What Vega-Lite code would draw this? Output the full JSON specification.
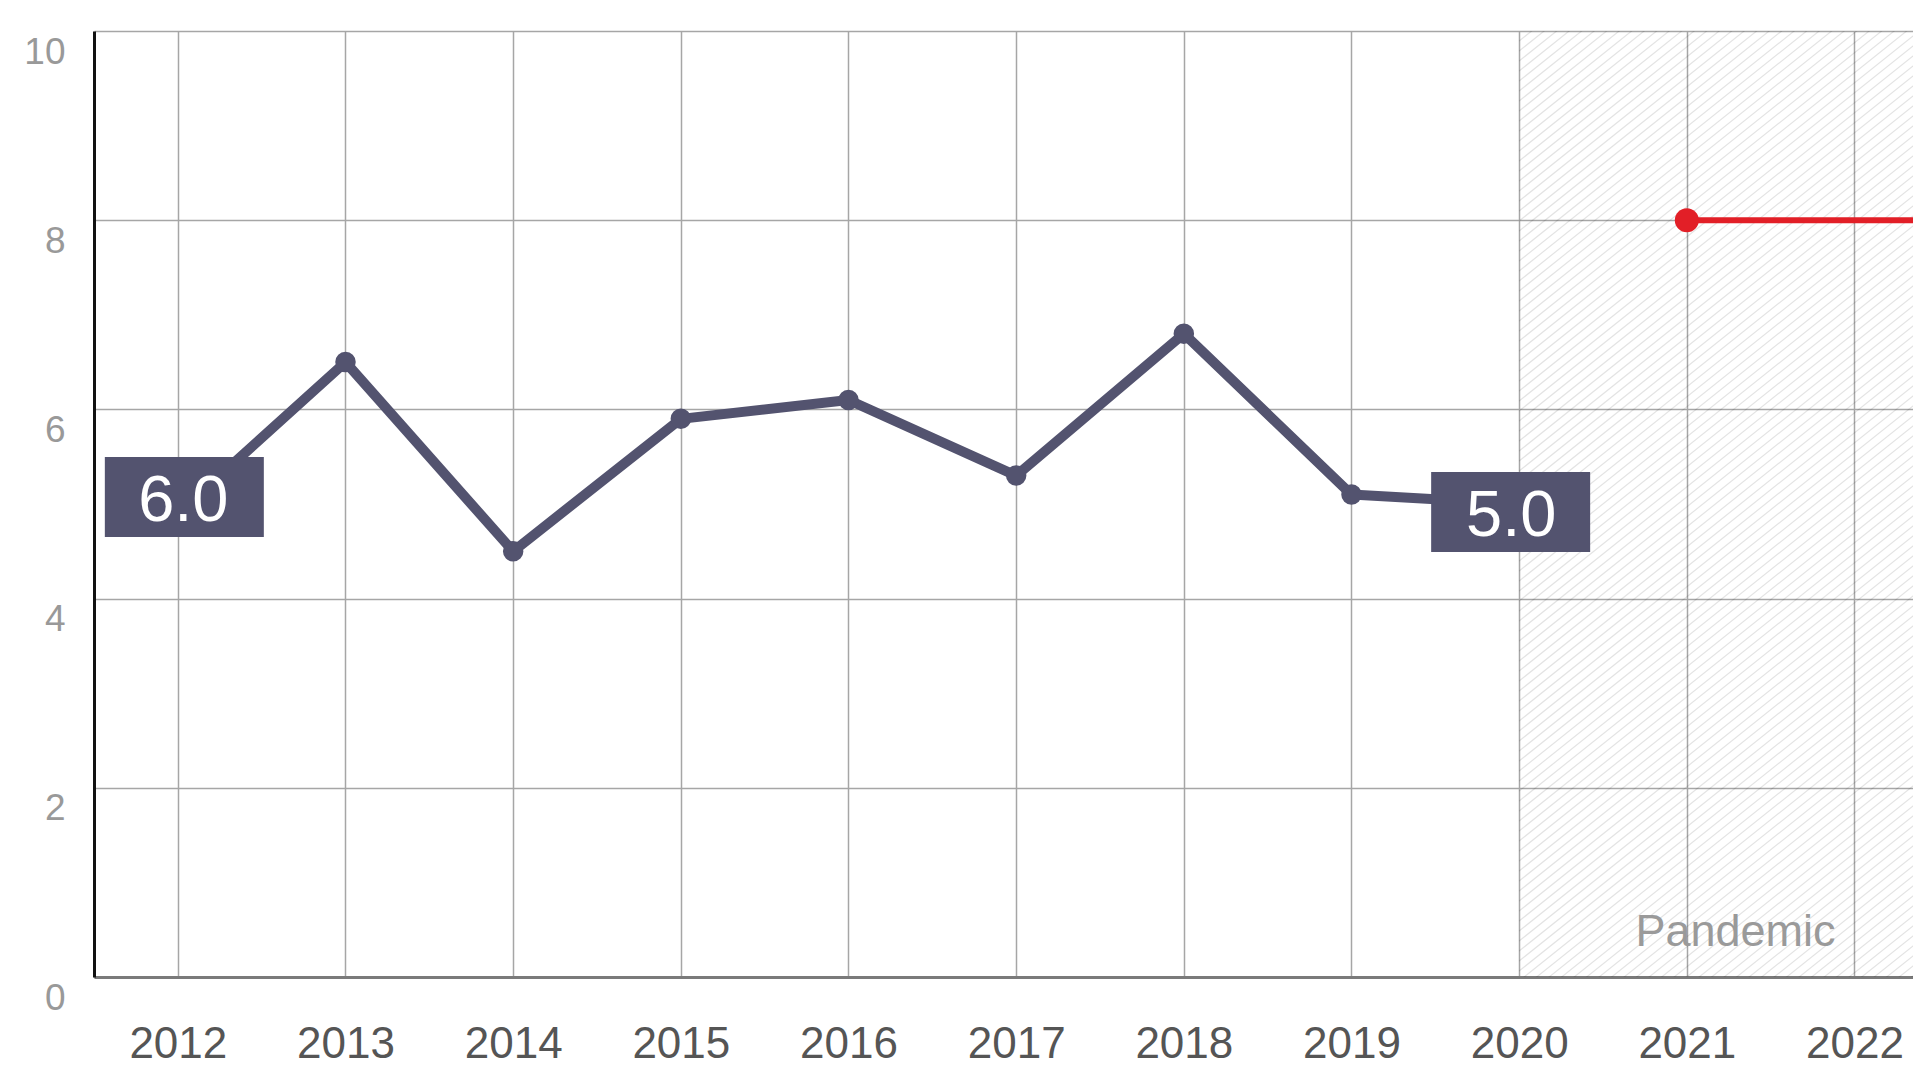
{
  "$schema": "https://vega.github.io/schema/vega-lite/v6.json",
  "width": 1819,
  "height": 946,
  "autosize": {"type": "none"},
  "padding": {"left": 94, "top": 31, "right": 0, "bottom": 96},
  "background": "white",
  "config": {"view": {"stroke": null}, "font": "Liberation Sans"},
  "datasets": {
    "main": [
      {"year": 2012, "value": 4.9, "label": "6.0"},
      {"year": 2013, "value": 6.5},
      {"year": 2014, "value": 4.5},
      {"year": 2015, "value": 5.9},
      {"year": 2016, "value": 6.1},
      {"year": 2017, "value": 5.3},
      {"year": 2018, "value": 6.8},
      {"year": 2019, "value": 5.1},
      {"year": 2020, "value": 5.0, "label": "5.0"}
    ],
    "red": [
      {"year": 2021, "value": 8.0},
      {"year": 2023, "value": 8.0}
    ],
    "region": [{"year": 2020, "value": 10}],
    "regionLabel": [{"year": 2021.29, "value": 0, "label": "Pandemic"}]
  },
  "layer": [
    {
      "data": {"name": "region"},
      "mark": {
        "type": "point",
        "shape": "M0,0l1000,-800m-1000,810l1000,-800m-1000,810l1000,-800m-1000,810l1000,-800m-1000,810l1000,-800m-1000,810l1000,-800m-1000,810l1000,-800m-1000,810l1000,-800m-1000,810l1000,-800m-1000,810l1000,-800m-1000,810l1000,-800m-1000,810l1000,-800m-1000,810l1000,-800m-1000,810l1000,-800m-1000,810l1000,-800m-1000,810l1000,-800m-1000,810l1000,-800m-1000,810l1000,-800m-1000,810l1000,-800m-1000,810l1000,-800m-1000,810l1000,-800m-1000,810l1000,-800m-1000,810l1000,-800m-1000,810l1000,-800m-1000,810l1000,-800m-1000,810l1000,-800m-1000,810l1000,-800m-1000,810l1000,-800m-1000,810l1000,-800m-1000,810l1000,-800m-1000,810l1000,-800m-1000,810l1000,-800m-1000,810l1000,-800m-1000,810l1000,-800m-1000,810l1000,-800m-1000,810l1000,-800m-1000,810l1000,-800m-1000,810l1000,-800m-1000,810l1000,-800m-1000,810l1000,-800m-1000,810l1000,-800m-1000,810l1000,-800m-1000,810l1000,-800m-1000,810l1000,-800m-1000,810l1000,-800m-1000,810l1000,-800m-1000,810l1000,-800m-1000,810l1000,-800m-1000,810l1000,-800m-1000,810l1000,-800m-1000,810l1000,-800m-1000,810l1000,-800m-1000,810l1000,-800m-1000,810l1000,-800m-1000,810l1000,-800m-1000,810l1000,-800m-1000,810l1000,-800m-1000,810l1000,-800m-1000,810l1000,-800m-1000,810l1000,-800m-1000,810l1000,-800m-1000,810l1000,-800m-1000,810l1000,-800m-1000,810l1000,-800m-1000,810l1000,-800m-1000,810l1000,-800m-1000,810l1000,-800m-1000,810l1000,-800m-1000,810l1000,-800m-1000,810l1000,-800m-1000,810l1000,-800m-1000,810l1000,-800m-1000,810l1000,-800m-1000,810l1000,-800m-1000,810l1000,-800m-1000,810l1000,-800m-1000,810l1000,-800m-1000,810l1000,-800m-1000,810l1000,-800m-1000,810l1000,-800m-1000,810l1000,-800m-1000,810l1000,-800m-1000,810l1000,-800m-1000,810l1000,-800m-1000,810l1000,-800m-1000,810l1000,-800m-1000,810l1000,-800m-1000,810l1000,-800m-1000,810l1000,-800m-1000,810l1000,-800m-1000,810l1000,-800m-1000,810l1000,-800m-1000,810l1000,-800m-1000,810l1000,-800m-1000,810l1000,-800m-1000,810l1000,-800m-1000,810l1000,-800m-1000,810l1000,-800m-1000,810l1000,-800m-1000,810l1000,-800m-1000,810l1000,-800m-1000,810l1000,-800m-1000,810l1000,-800m-1000,810l1000,-800m-1000,810l1000,-800m-1000,810l1000,-800m-1000,810l1000,-800m-1000,810l1000,-800m-1000,810l1000,-800m-1000,810l1000,-800m-1000,810l1000,-800m-1000,810l1000,-800m-1000,810l1000,-800m-1000,810l1000,-800m-1000,810l1000,-800m-1000,810l1000,-800m-1000,810l1000,-800m-1000,810l1000,-800m-1000,810l1000,-800m-1000,810l1000,-800m-1000,810l1000,-800m-1000,810l1000,-800m-1000,810l1000,-800m-1000,810l1000,-800m-1000,810l1000,-800m-1000,810l1000,-800m-1000,810l1000,-800m-1000,810l1000,-800m-1000,810l1000,-800m-1000,810l1000,-800m-1000,810l1000,-800m-1000,810l1000,-800m-1000,810l1000,-800m-1000,810l1000,-800m-1000,810l1000,-800m-1000,810l1000,-800m-1000,810l1000,-800",
        "size": 4,
        "filled": false,
        "stroke": "#000000",
        "strokeOpacity": 0.11,
        "strokeWidth": 1.2,
        "opacity": 1,
        "clip": true
      },
      "encoding": {
        "x": {
          "field": "year", "type": "quantitative",
          "scale": {"domain": [2011.5, 2022.349], "nice": false, "zero": false},
          "axis": {
            "title": null,
            "values": [2012, 2013, 2014, 2015, 2016, 2017, 2018, 2019, 2020, 2021, 2022],
            "format": "d",
            "grid": true, "gridColor": "#a6a6a6", "gridWidth": 1.5,
            "ticks": false,
            "domain": true, "domainColor": "#7a7a7a", "domainWidth": 3,
            "labelFont": "Liberation Sans", "labelFontSize": 44, "labelColor": "#555555",
            "labelPadding": 80, "labelBaseline": "alphabetic",
            "labelFlush": false, "labelOverlap": false
          }
        },
        "y": {
          "field": "value", "type": "quantitative",
          "scale": {"domain": [0, 10], "nice": false, "zero": true},
          "axis": {
            "title": null,
            "values": [0, 2, 4, 6, 8, 10],
            "format": "d",
            "grid": true, "gridColor": "#a6a6a6", "gridWidth": 1.5,
            "ticks": false,
            "domain": true, "domainColor": "#111111", "domainWidth": 3,
            "labelFont": "Liberation Sans", "labelFontSize": 37, "labelColor": "#999999",
            "labelPadding": 29, "labelBaseline": "alphabetic", "labelOffset": 32,
            "labelFlush": false, "labelOverlap": false
          }
        }
      }
    },
    {
      "data": {"name": "regionLabel"},
      "mark": {"type": "text", "font": "Liberation Sans", "fontSize": 45, "color": "#9a9a9a", "align": "center", "baseline": "alphabetic", "dy": -31},
      "encoding": {
        "x": {"field": "year", "type": "quantitative"},
        "y": {"field": "value", "type": "quantitative"},
        "text": {"field": "label"}
      }
    },
    {
      "data": {"name": "main"},
      "mark": {"type": "line", "color": "#53536f", "strokeWidth": 10, "strokeJoin": "round"},
      "encoding": {
        "x": {"field": "year", "type": "quantitative"},
        "y": {"field": "value", "type": "quantitative"}
      }
    },
    {
      "data": {"name": "main"},
      "transform": [{"filter": "datum.year > 2012 && datum.year < 2020"}],
      "mark": {"type": "point", "shape": "circle", "filled": true, "color": "#53536f", "size": 420, "opacity": 1},
      "encoding": {
        "x": {"field": "year", "type": "quantitative"},
        "y": {"field": "value", "type": "quantitative"}
      }
    },
    {
      "data": {"name": "red"},
      "mark": {"type": "line", "color": "#e21f27", "strokeWidth": 6, "clip": true},
      "encoding": {
        "x": {"field": "year", "type": "quantitative"},
        "y": {"field": "value", "type": "quantitative"}
      }
    },
    {
      "data": {"name": "red"},
      "transform": [{"filter": "datum.year == 2021"}],
      "mark": {"type": "point", "shape": "circle", "filled": true, "color": "#e21f27", "size": 576, "opacity": 1},
      "encoding": {
        "x": {"field": "year", "type": "quantitative"},
        "y": {"field": "value", "type": "quantitative"}
      }
    },
    {
      "data": {"name": "main"},
      "transform": [{"filter": "datum.year == 2012"}],
      "mark": {"type": "point", "shape": "M-1,-0.5031H1V0.5031H-1Z", "filled": true, "color": "#53536f", "size": 25281, "opacity": 1, "xOffset": 6.5, "yOffset": -16.5},
      "encoding": {
        "x": {"field": "year", "type": "quantitative"},
        "y": {"field": "value", "type": "quantitative"}
      }
    },
    {
      "data": {"name": "main"},
      "transform": [{"filter": "datum.year == 2012"}],
      "mark": {"type": "text", "font": "Liberation Sans", "fontSize": 65, "color": "#ffffff", "align": "center", "baseline": "alphabetic", "dx": 5.5, "dy": 7.5},
      "encoding": {
        "x": {"field": "year", "type": "quantitative"},
        "y": {"field": "value", "type": "quantitative"},
        "text": {"field": "label"}
      }
    },
    {
      "data": {"name": "main"},
      "transform": [{"filter": "datum.year == 2020"}],
      "mark": {"type": "point", "shape": "M-1,-0.5031H1V0.5031H-1Z", "filled": true, "color": "#53536f", "size": 25281, "opacity": 1, "xOffset": -8.5, "yOffset": 8},
      "encoding": {
        "x": {"field": "year", "type": "quantitative"},
        "y": {"field": "value", "type": "quantitative"}
      }
    },
    {
      "data": {"name": "main"},
      "transform": [{"filter": "datum.year == 2020"}],
      "mark": {"type": "text", "font": "Liberation Sans", "fontSize": 65, "color": "#ffffff", "align": "center", "baseline": "alphabetic", "dx": -8, "dy": 32},
      "encoding": {
        "x": {"field": "year", "type": "quantitative"},
        "y": {"field": "value", "type": "quantitative"},
        "text": {"field": "label"}
      }
    }
  ]
}
